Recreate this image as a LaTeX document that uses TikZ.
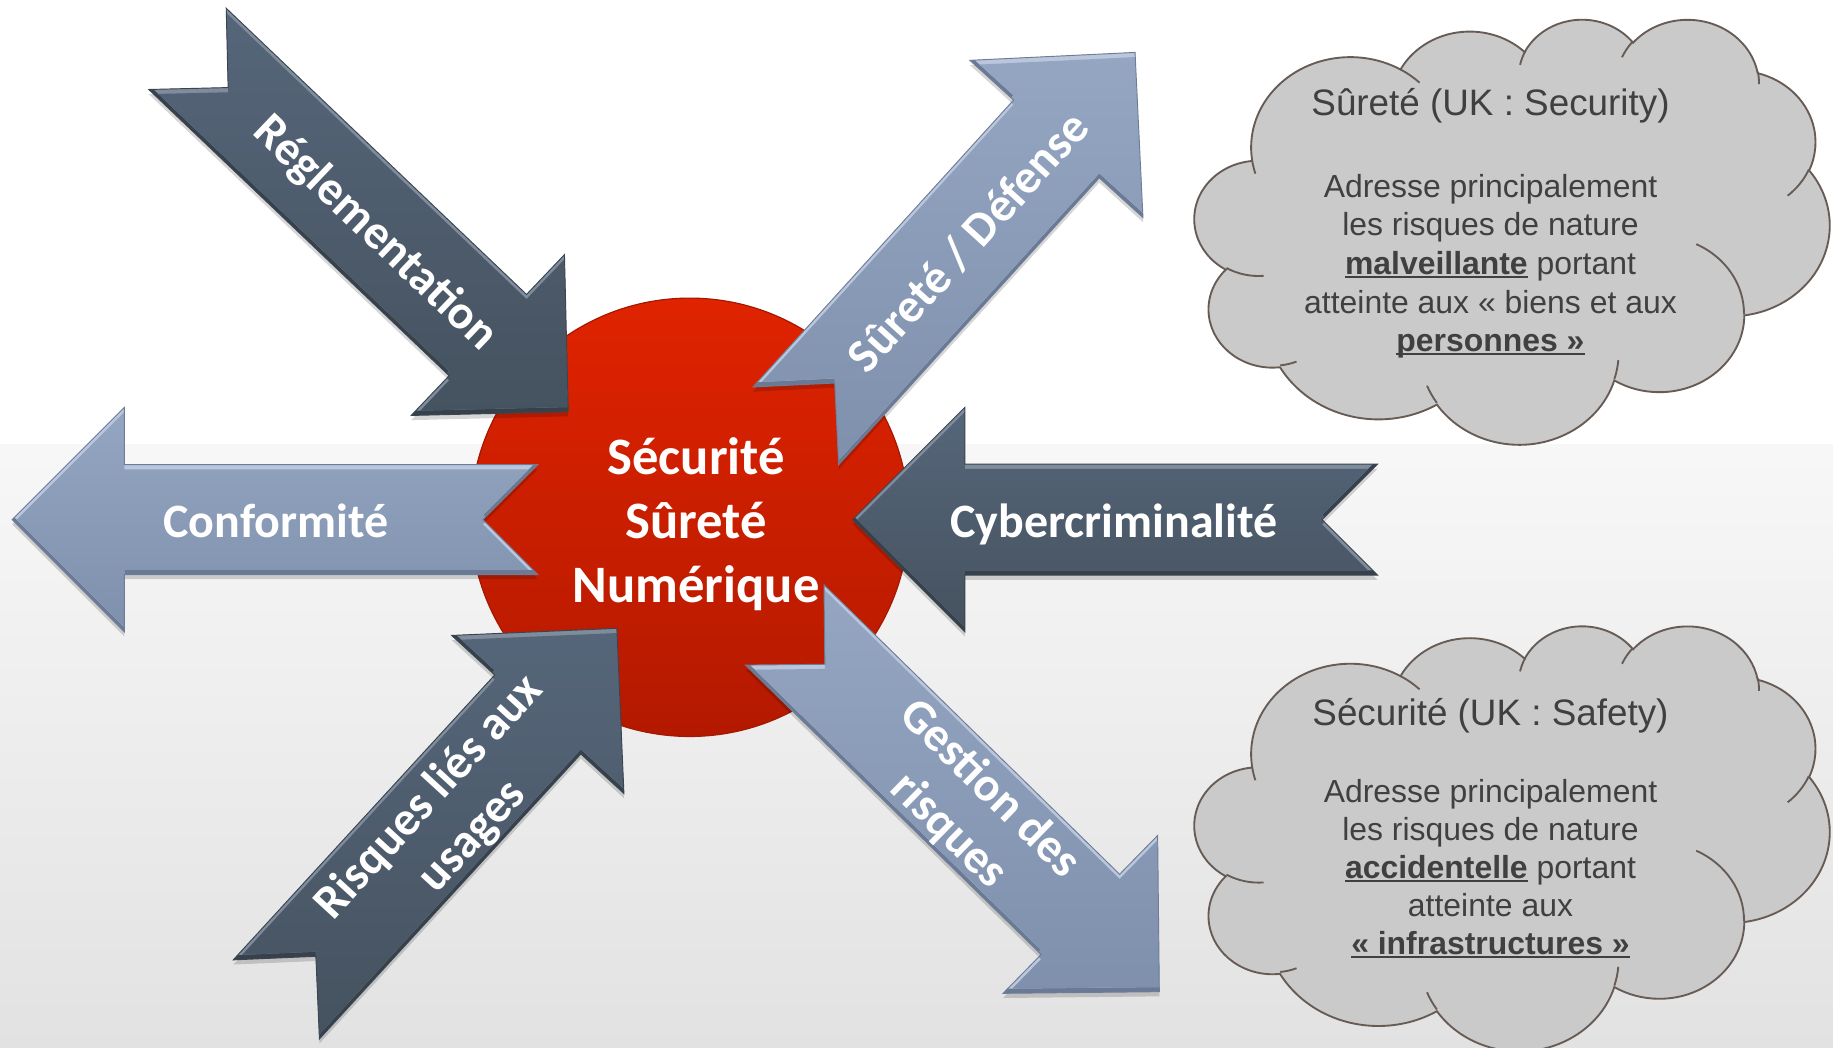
\documentclass[tikz,border=0pt]{standalone}
\usepackage{fontspec}
\newfontfamily\labelfont{Carlito}
\newfontfamily\cloudfont{Liberation Sans}

% underline set at a fixed depth below the baseline
\newcommand\cloudul[1]{\leavevmode\setbox0=\hbox{#1}\rlap{\rule[-0.11em]{\wd0}{0.065em}}\box0\relax}

\definecolor{dkTop}{HTML}{56667A}
\definecolor{dkBot}{HTML}{45525F}
\definecolor{dkHi}{HTML}{7E8C9C}
\definecolor{dkLo}{HTML}{37414C}
\definecolor{dkLine}{HTML}{3A4550}
\definecolor{ltTop}{HTML}{95A6C3}
\definecolor{ltBot}{HTML}{7F90AD}
\definecolor{ltHi}{HTML}{B9C6DC}
\definecolor{ltLo}{HTML}{6B7A94}
\definecolor{ltLine}{HTML}{6E7D97}
\definecolor{coreTop}{HTML}{E02300}
\definecolor{coreBot}{HTML}{B31900}
\definecolor{coreLine}{HTML}{A51700}
\definecolor{cloudFill}{HTML}{CACACA}
\definecolor{cloudLine}{HTML}{675C55}
\definecolor{cloudText}{HTML}{404040}
\definecolor{bgLow}{HTML}{E2E2E2}

% notched block arrow: #1 tail centre, #2 direction, #3 length,
% #4 half shaft width, #5 half head width, #6 palette (dk / lt)
\newcommand\NotchedArrow[6]{%
  \begin{scope}[shift={#1}, rotate=#2]
    \def\ArrowShape{(0,#4) -- ({#3-#5},#4) -- ({#3-#5},#5) -- (#3,0)
      -- ({#3-#5},-#5) -- ({#3-#5},-#4) -- (0,-#4) -- (#4,0) -- cycle}
    \fill[black, opacity=0.16, shift={({#2+90}:4)}] \ArrowShape;
    \begin{scope}
      \clip \ArrowShape;
      \fill[#6Lo] \ArrowShape;
      \begin{scope}
        \clip[shift={({#2-90}:4)}] \ArrowShape;
        \fill[#6Hi] \ArrowShape;
        \clip[shift={({#2+90}:4)}] \ArrowShape;
        \path[top color=#6Top, bottom color=#6Bot] \ArrowShape;
      \end{scope}
    \end{scope}
    \draw[#6Line, line width=0.8pt] \ArrowShape;
  \end{scope}}

% cloud outline built from elliptical puffs (unit square 432 x 432)
\newcommand\CloudPuffs{(39.00,143.70)
  arc[start angle=-187.746, end angle=-59.644, x radius=67.53, y radius=91.90]
  arc[start angle=-152.024, end angle=-45.453, x radius=53.33, y radius=72.67]
  arc[start angle=-153.489, end angle=-37.327, x radius=43.65, y radius=59.45]
  arc[start angle=-139.716, end angle=-10.212, x radius=48.57, y radius=65.95]
  arc[start angle=-74.767, end angle=23.208, x radius=53.33, y radius=72.73]
  arc[start angle=-37.527, end angle=81.862, x radius=67.75, y radius=92.20]
  arc[start angle=0.4596, end angle=121.974, x radius=57.85, y radius=78.67]
  arc[start angle=16.845, end angle=146.222, x radius=67.52, y radius=92.15]
  arc[start angle=58.989, end angle=150.195, x radius=77.20, y radius=105.43]
  arc[start angle=-276.694, end angle=-136.902, x radius=43.60, y radius=59.18]
  arc[start angle=-239.644, end angle=-95.888, x radius=43.45, y radius=59.45]
  -- cycle}
% short creases where the puffs meet
\newcommand\CloudCreases{%
  (46.93,261.77) arc[start angle=85.546, end angle=120.356, x radius=43.45, y radius=59.45]
  (69.28,348.99) arc[start angle=68.232, end angle=83.306, x radius=43.60, y radius=59.18]
  (164.78,390.90) arc[start angle=146.222, end angle=158.475, x radius=67.52, y radius=92.15]
  (288.27,347.51) arc[start angle=4.738, end angle=16.845, x radius=67.52, y radius=92.15]
  (341.29,229.54) arc[start angle=-64.032, end angle=0.4596, x radius=57.85, y radius=78.67]
  (417.98,153.54) arc[start angle=23.208, end angle=49.636, x radius=53.33, y radius=72.73]
  (383.24,54.26) arc[start angle=-10.212, end angle=0.821, x radius=48.57, y radius=65.95]
  (290.78,39.52) arc[start angle=-156.288, end angle=-139.716, x radius=48.57, y radius=65.95]
  (221.41,47.20) arc[start angle=-167.726, end angle=-153.489, x radius=43.65, y radius=59.45]
  (140.00,51.92) arc[start angle=-59.644, end angle=-45.732, x radius=67.53, y radius=91.90]
  (41.27,157.89) arc[start angle=163.197, end angle=172.254, x radius=67.53, y radius=91.90]}

\tikzset{
  arrowlabel/.style={text=white, inner sep=0pt, align=center,
    font=\labelfont\bfseries\fontsize{41}{50}\selectfont},
  corelabel/.style={text=white, inner sep=0pt, align=center,
    font=\labelfont\bfseries\fontsize{45}{54.5}\selectfont},
  cloudtitle/.style={text=cloudText, inner sep=0pt, anchor=base,
    font=\cloudfont\fontsize{31.5}{36}\selectfont},
  cloudline/.style={text=cloudText, inner sep=0pt, anchor=base,
    font=\cloudfont\fontsize{27.3}{33}\selectfont},
  cloudshape/.style={fill=cloudFill, draw=cloudLine, line width=1.6pt},
}

\begin{document}
\begin{tikzpicture}[x=1pt, y=-1pt]
\useasboundingbox (0,0) rectangle (1568,896);

% backdrop
\fill[white] (0,0) rectangle (1568,380);
\shade[top color=white!97!black, bottom color=bgLow] (0,380) rectangle (1568,896);

% central disc
\node[circle, minimum size=375pt, inner sep=0pt, top color=coreTop,
  bottom color=coreBot, draw=coreLine, line width=1pt] (core) at (590,442.5) {};

% block arrows around the disc
\NotchedArrow{(160.4,41.8)}{-43.62}{449.9}{48}{95}{dk}
\NotchedArrow{(680.75,364.3)}{47.75}{431.6}{49.5}{100}{lt}
\NotchedArrow{(460,444.5)}{180}{449.6}{47}{96}{lt}
\NotchedArrow{(1178.4,444.5)}{180}{449}{47.5}{96}{dk}
\NotchedArrow{(236.4,854.9)}{47.46}{430.8}{50}{100}{dk}
\NotchedArrow{(671.3,534.65)}{-44.39}{448.4}{48}{94.5}{lt}

% arrow labels
\node[arrowlabel, rotate=-43.62] (regl) at (321,200) {Réglementation};
\node[arrowlabel, rotate=47.75] (surete) at (828,207) {Sûreté / Défense};
\node[arrowlabel, anchor=base] (conf) at (236,460) {Conformité};
\node[arrowlabel, anchor=base] (cyber) at (953,460) {Cybercriminalité};
\node[arrowlabel, rotate=47.46] (usages) at (386,699) {Risques liés aux\\usages};
\node[arrowlabel, rotate=-44.39] (gestion) at (829,693) {Gestion des\\risques};

% disc label
\node[corelabel] (coretext) at (595.5,448.5) {Sécurité\\Sûreté\\Numérique};

% upper cloud
\begin{scope}[shift={(1022,15.7)}, x=1.256944pt, y=-0.841435pt]
  \path[cloudshape] \CloudPuffs;
  \draw[cloudLine, line width=1.6pt] \CloudCreases;
\end{scope}
\node[cloudtitle] (secTitle) at (1275,98.4) {Sûreté (UK : Security)};
\node[cloudline] (sec1) at (1275,168.8) {Adresse principalement};
\node[cloudline] (sec2) at (1275,201.8) {les risques de nature};
\node[cloudline] (sec3) at (1275,234.8) {\cloudul{\bfseries malveillante} portant};
\node[cloudline] (sec4) at (1275,267.8) {atteinte aux « biens et aux};
\node[cloudline] (sec5) at (1275,300.8) {\cloudul{\bfseries personnes »}};

% lower cloud
\begin{scope}[shift={(1022,534.6)}, x=1.256944pt, y=-0.841435pt]
  \path[cloudshape] \CloudPuffs;
  \draw[cloudLine, line width=1.6pt] \CloudCreases;
\end{scope}
\node[cloudtitle] (safTitle) at (1275,620.5) {Sécurité (UK : Safety)};
\node[cloudline] (saf1) at (1275,686.6) {Adresse principalement};
\node[cloudline] (saf2) at (1275,719) {les risques de nature};
\node[cloudline] (saf3) at (1275,751.4) {\cloudul{\bfseries accidentelle} portant};
\node[cloudline] (saf4) at (1275,783.8) {atteinte aux};
\node[cloudline] (saf5) at (1275,816.2) {\cloudul{\bfseries « infrastructures »}};
\end{tikzpicture}
\end{document}
